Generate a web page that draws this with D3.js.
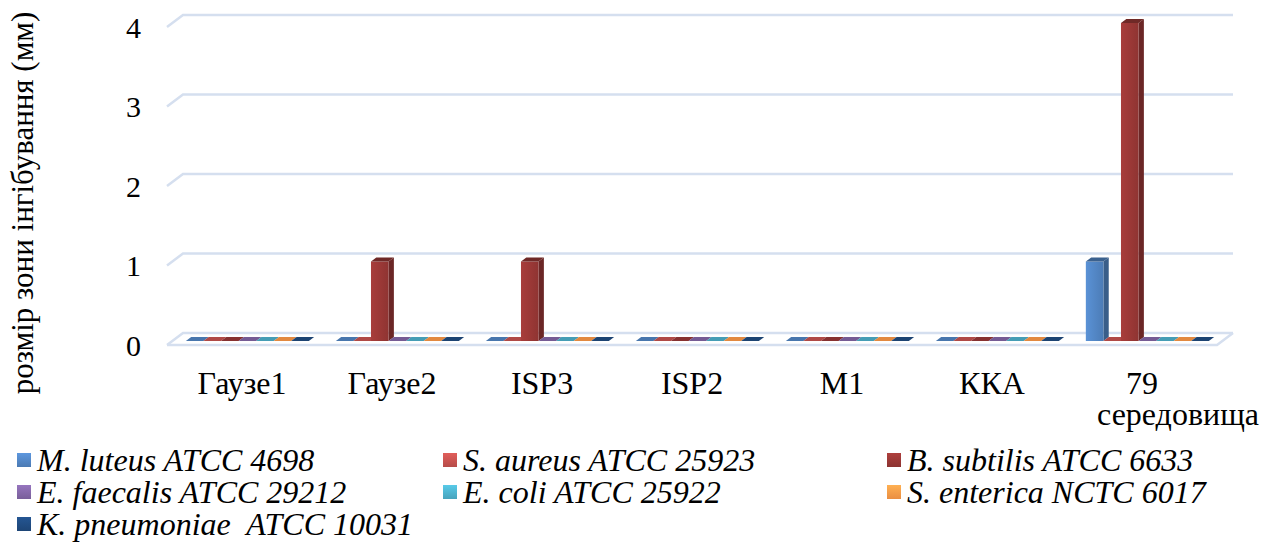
<!DOCTYPE html>
<html><head><meta charset="utf-8">
<script src="https://cdn.jsdelivr.net/npm/d3@7"></script>
<style>
html,body{margin:0;padding:0;background:#fff;}
svg{display:block;}
</style></head>
<body>
<svg id="chart" width="1277" height="544"></svg>
<script>
const categories = ["Гаузе1", "Гаузе2", "ISP3", "ISP2", "М1", "ККА", "79 середовища"];
const seriesNames = ["M. luteus ATCC 4698", "S. aureus ATCC 25923", "B. subtilis ATCC 6633",
  "E. faecalis ATCC 29212", "E. coli ATCC 25922", "S. enterica NCTC 6017", "K. pneumoniae  ATCC 10031"];
const seriesColors = ["#4F81BD", "#C0504D", "#943634", "#8064A2", "#4BACC6", "#F79646", "#1F497D"];
const mLuteus    = [0, 0, 0, 0, 0, 0, 1];
const sAureus    = [0, 0, 0, 0, 0, 0, 0];
const bSubtilis  = [0, 1, 1, 0, 0, 0, 4];
const eFaecalis  = [0, 0, 0, 0, 0, 0, 0];
const eColi      = [0, 0, 0, 0, 0, 0, 0];
const sEnterica  = [0, 0, 0, 0, 0, 0, 0];
const kPneumoniae= [0, 0, 0, 0, 0, 0, 0];
const seriesValues = [mLuteus, sAureus, bSubtilis, eFaecalis, eColi, sEnterica, kPneumoniae];
const yTicks = [0, 1, 2, 3, 4];
const yTitle = "розмір зони інгібування (мм)";

const svg = d3.select("#chart");
const FONT = "Liberation Serif";
const frontLeft = 167, frontRight = 1217, frontBase = 345, frontTop = 27;
const DX = 16, DY = -12;
const proj = (x, y, d) => [x + d * DX, y + d * DY];

const x0 = d3.scaleBand().domain(categories).range([frontLeft, frontRight]).paddingInner(0).paddingOuter(0);
const innerPad = 0.09;
const x1 = d3.scaleBand().domain(d3.range(seriesNames.length))
  .range([x0.bandwidth() * innerPad, x0.bandwidth() * (1 - innerPad)]).padding(0);
const y = d3.scaleLinear().domain([0, 4]).range([frontBase, frontTop]);

const defs = svg.append("defs");
seriesColors.forEach((c, i) => {
  const g = defs.append("linearGradient").attr("id", "gf" + i).attr("x1", "0").attr("x2", "1").attr("y1", "0").attr("y2", "0");
  g.append("stop").attr("offset", "0").attr("stop-color", d3.color(c).brighter(0.35));
  g.append("stop").attr("offset", "1").attr("stop-color", d3.color(c).darker(0.1));
  const l = defs.append("linearGradient").attr("id", "gl" + i).attr("x1", "0").attr("x2", "0").attr("y1", "0").attr("y2", "1");
  l.append("stop").attr("offset", "0").attr("stop-color", d3.color(c).brighter(0.45));
  l.append("stop").attr("offset", "1").attr("stop-color", d3.color(c).darker(0.15));
});

const gridColor = "#D5DFEF";
yTicks.forEach(t => {
  const f = [frontLeft, y(t)];
  const b = proj(frontLeft, y(t), 1);
  const e = proj(frontRight, y(t), 1);
  svg.append("polyline")
    .attr("points", [f, b, e].map(p => p.join(",")).join(" "))
    .attr("fill", "none").attr("stroke", gridColor).attr("stroke-width", 2.5);
});
{
  const a = [frontLeft, y(0)], b = [frontRight, y(0)], c = proj(frontRight, y(0), 1);
  svg.append("polyline").attr("points", [a, b, c].map(p => p.join(",")).join(" "))
    .attr("fill", "none").attr("stroke", gridColor).attr("stroke-width", 2.5);
}

const d0 = 1 / 3, d1 = 2 / 3;
const barsG = svg.append("g");
categories.forEach((cat, ci) => {
  seriesValues.forEach((vals, si) => {
    const v = vals[ci];
    const xl = x0(cat) + x1(si), xr = xl + x1.bandwidth();
    const yb = y(0), yt = y(v);
    const c = d3.color(seriesColors[si]);
    const P = (x, yy, d) => proj(x, yy, d).join(",");
    if (v > 0) {
      barsG.append("polygon")
        .attr("points", [P(xr, yb, d0), P(xr, yb, d1), P(xr, yt, d1), P(xr, yt, d0)].join(" "))
        .attr("fill", c.darker(0.9));
      barsG.append("polygon")
        .attr("points", [P(xl, yb, d0), P(xr, yb, d0), P(xr, yt, d0), P(xl, yt, d0)].join(" "))
        .attr("fill", "url(#gf" + si + ")");
    }
    barsG.append("polygon")
      .attr("points", [P(xl, yt, d0), P(xr, yt, d0), P(xr, yt, d1), P(xl, yt, d1)].join(" "))
      .attr("fill", v > 0 ? c.darker(0.8) : c.darker(0.25));
  });
});

svg.append("g").selectAll("text").data(yTicks).join("text")
  .attr("x", 141).attr("y", d => y(d)).attr("dy", "0.35em")
  .style("font-family", FONT)
  .attr("text-anchor", "end").attr("font-size", 30).text(d => d);

svg.append("text")
  .attr("transform", "translate(33,203) rotate(-90)")
  .style("font-family", FONT)
  .attr("text-anchor", "middle").attr("font-size", 31).text(yTitle);

const catG = svg.append("g");
categories.forEach(cat => {
  const cx = x0(cat) + x0.bandwidth() / 2;
  cat.split(" ").forEach((p, i) => {
    catG.append("text").style("font-family", FONT).attr("font-size", 32).attr("text-anchor", "middle")
      .attr("x", cx + (i > 0 ? 36 : 0)).attr("y", 394 + i * 31).text(p);
  });
});

const legCols = [17, 443, 887];
const legRows = [460, 492, 524];
const lg = svg.append("g");
seriesNames.forEach((n, i) => {
  const col = i % 3, row = Math.floor(i / 3);
  const gx = legCols[col], gy = legRows[row];
  lg.append("rect").attr("x", gx).attr("y", gy - 7).attr("width", 14).attr("height", 14)
    .attr("fill", "url(#gl" + i + ")");
  lg.append("text").attr("x", gx + 20).attr("y", gy).attr("dy", "0.35em")
    .style("font-family", FONT).style("white-space", "pre")
    .attr("font-size", 32).attr("font-style", "italic").text(n);
});
</script>
</body></html>
